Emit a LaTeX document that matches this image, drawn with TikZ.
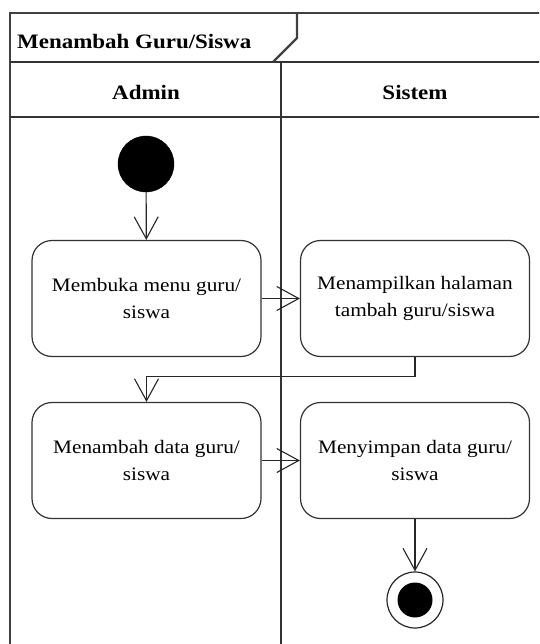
\documentclass[tikz,border=0pt]{standalone}
\usepackage{fontspec}
\setmainfont{Liberation Serif}[FakeStretch=1.12]
\usetikzlibrary{arrows.meta,positioning}
\tikzset{
  act/.style={draw=black!80, line width=1.2pt, rounded corners=20pt, minimum width=229pt, minimum height=116pt, align=center, font=\fontsize{19}{27}\selectfont, text=black},
  flow/.style={draw=black!85, line width=1.2pt, -{Straight Barb[length=22pt,width=24pt,line width=1.1pt]}},
  frame/.style={draw=black!75, line width=2.4pt},
  lane/.style={draw=black!80, line width=2pt},
  hdr/.style={font=\bfseries\fontsize{20.5}{24}\selectfont, text=black}
}
\begin{document}
\begin{tikzpicture}[x=1pt,y=-1pt]
\useasboundingbox (0,0) rectangle (539,644);
\clip (0,0) rectangle (539,644);
% frame
\draw[frame] (10,680) -- (10,13) -- (570,13);
\draw[lane] (10,62) -- (570,62);
\draw[lane] (10,117) -- (570,117);
\draw[lane] (281,62) -- (281,680);
\draw[frame] (297,13) -- (297,38) -- (273,62);
\node[hdr, anchor=west, inner sep=0pt] (title) at (17,42) {Menambah Guru/Siswa};
\node[hdr] (admin) at (146,92) {Admin};
\node[hdr] (sistem) at (415,92) {Sistem};
% nodes
\node[circle, fill=black, draw=black, minimum size=56pt, inner sep=0pt] (start) at (146,164) {};
\node[act] (b1) at (146.5,298.5) {Membuka menu guru/\\siswa};
\node[act] (b2) at (415,298.5) {Menampilkan halaman\\tambah guru/siswa};
\node[act] (b3) at (146.5,460.5) {Menambah data guru/\\siswa};
\node[act] (b4) at (415,460.5) {Menyimpan data guru/\\siswa};
\node[circle, draw=black!85, line width=1.2pt, minimum size=56pt, inner sep=0pt] (end) at (415,600) {};
\node[circle, fill=black, minimum size=35pt, inner sep=0pt] (endin) at (end.center) {};
% connectors
\draw[flow] (start) -- (b1);
\draw[flow] (b1) -- (b2);
\draw[flow] (b2.south) -- ++(0,19) -| (b3.north);
\draw[flow] (b3) -- (b4);
\draw[flow] (b4) -- (end);
\end{tikzpicture}
\end{document}
